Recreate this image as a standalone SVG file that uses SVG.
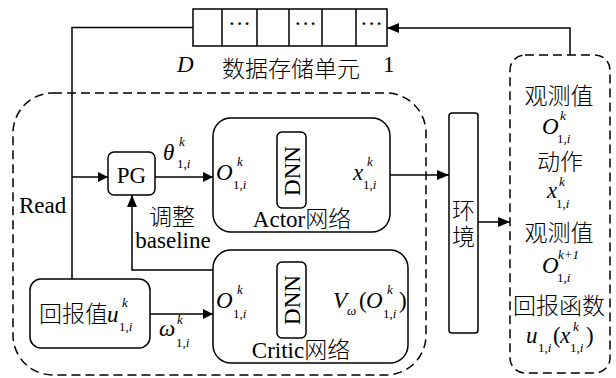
<svg xmlns="http://www.w3.org/2000/svg" width="616" height="378" viewBox="0 0 616 378">
<defs>
<marker id="arr" viewBox="0 0 10 10" refX="10" refY="5" markerWidth="10" markerHeight="10" markerUnits="userSpaceOnUse" orient="auto">
<path d="M0,0 L10,5 L0,10 z" fill="#000"/>
</marker>
<marker id="arrL" viewBox="0 0 12 10" refX="12" refY="5" markerWidth="12" markerHeight="10" markerUnits="userSpaceOnUse" orient="auto">
<path d="M0,0 L12,5 L0,10 z" fill="#000"/>
</marker>
</defs>
<style>
text{font-family:"Liberation Serif","Noto Sans CJK SC",serif;fill:#000;font-size:23px}
.cn{font-family:"Noto Sans CJK SC","Liberation Serif",sans-serif;font-weight:300}
.it{font-style:italic}
.s{font-size:13px}
.box{fill:#fff;stroke:#000;stroke-width:1.5}
.dash{fill:none;stroke:#000;stroke-width:1.5;stroke-dasharray:9,5}
.ln{fill:none;stroke:#000;stroke-width:1.5}
</style>
<rect width="616" height="378" fill="#fff"/>

<g id="outer">
<rect class="dash" x="13" y="93" width="413" height="282" rx="40" ry="40"/>
</g>
<g id="panel">
<rect class="dash" x="510" y="55" width="100" height="318" rx="15" ry="15"/>
</g>

<g id="connectors">
<path class="ln" d="M72,280 V27.5 H193"/>
<path class="ln" d="M72,177 H108" marker-end="url(#arr)"/>
<path class="ln" d="M570,55 V28 H387" marker-end="url(#arrL)"/>
<path class="ln" d="M155,177 H213" marker-end="url(#arr)"/>
<path class="ln" d="M244,170 H277" marker-end="url(#arr)"/>
<path class="ln" d="M306,170 H338" marker-end="url(#arr)"/>
<path class="ln" d="M390,175 H449" marker-end="url(#arrL)"/>
<path class="ln" d="M478,222 H510" marker-end="url(#arrL)"/>
<path class="ln" d="M213,270 H132 V195" marker-end="url(#arrL)"/>
<path class="ln" d="M150,314 H213" marker-end="url(#arr)"/>
<path class="ln" d="M244,300 H277" marker-end="url(#arr)"/>
<path class="ln" d="M306,300 H333" marker-end="url(#arr)"/>
</g>

<g id="storage">
<rect class="box" x="193" y="9" width="194" height="37"/>
<path class="ln" d="M222,9 V46 M257,9 V46 M289,9 V46 M322,9 V46 M356,9 V46"/>
<text x="239.5" y="31" text-anchor="middle" font-size="16">···</text>
<text x="305.5" y="31" text-anchor="middle" font-size="16">···</text>
<text x="371.5" y="31" text-anchor="middle" font-size="16">···</text>
<text class="it" x="177" y="72">D</text>
<text class="cn" x="222" y="77" font-size="23.5">数据存储单元</text>
<text x="383" y="72">1</text>
</g>

<g id="read">
<text x="19" y="213">Read</text>
</g>

<g id="pg">
<rect class="box" x="108" y="152" width="47" height="43" rx="6" ry="6"/>
<text x="131.5" y="183" text-anchor="middle">PG</text>
<text class="it" x="163" y="160">θ</text>
<text class="it s" x="179" y="146">k</text>
<text class="s" x="177" y="168">1,<tspan class="it">i</tspan></text>
</g>

<g id="adjust">
<text class="cn" x="172" y="225" text-anchor="middle">调整</text>
<text x="173" y="248" text-anchor="middle">baseline</text>
</g>

<g id="actor">
<rect class="box" x="213" y="118" width="177" height="114" rx="18" ry="18"/>
<rect class="box" x="277" y="132" width="29" height="76" rx="5" ry="5"/>
<text transform="translate(299.5,171) rotate(-90)" text-anchor="middle">DNN</text>
<text class="it" x="216" y="180">O</text>
<text class="it s" x="237" y="166">k</text>
<text class="s" x="233" y="189">1,<tspan class="it">i</tspan></text>
<text class="it" x="353" y="180">x</text>
<text class="it s" x="367" y="166">k</text>
<text class="s" x="363" y="189">1,<tspan class="it">i</tspan></text>
<text x="302" y="227" text-anchor="middle">Actor<tspan class="cn">网络</tspan></text>
</g>

<g id="critic">
<rect class="box" x="213" y="250" width="195" height="113" rx="18" ry="18"/>
<rect class="box" x="277" y="262" width="29" height="76" rx="5" ry="5"/>
<text transform="translate(299.5,300) rotate(-90)" text-anchor="middle">DNN</text>
<text class="it" x="216" y="308">O</text>
<text class="it s" x="237" y="294">k</text>
<text class="s" x="233" y="318">1,<tspan class="it">i</tspan></text>
<text class="it" x="333" y="308">V</text>
<text class="it s" x="347" y="315">ω</text>
<text x="359" y="308">(</text>
<text class="it" x="366" y="308">O</text>
<text class="it s" x="387" y="294">k</text>
<text class="s" x="383" y="318">1,<tspan class="it">i</tspan></text>
<text x="399" y="308">)</text>
<text x="301" y="358" text-anchor="middle">Critic<tspan class="cn">网络</tspan></text>
</g>

<g id="env">
<rect class="box" x="449" y="113" width="29" height="220" rx="3" ry="3"/>
<text class="cn" x="463.5" y="219" text-anchor="middle" font-size="22">环</text>
<text class="cn" x="463.5" y="245" text-anchor="middle" font-size="22">境</text>
</g>

<g id="reward">
<rect class="box" x="30" y="279" width="120" height="69" rx="11" ry="11"/>
<text class="cn" x="39" y="322">回报值</text>
<text class="it" x="107" y="322">u</text>
<text class="it s" x="122" y="307">k</text>
<text class="s" x="119" y="331">1,<tspan class="it">i</tspan></text>
<text class="it" x="159" y="336">ω</text>
<text class="it s" x="177" y="324">k</text>
<text class="s" x="176" y="347">1,<tspan class="it">i</tspan></text>
</g>

<g id="panel-text">
<text class="cn" x="559" y="104" text-anchor="middle">观测值</text>
<text class="it" x="542" y="134">O</text>
<text class="it s" x="560" y="120">k</text>
<text class="s" x="557" y="143">1,<tspan class="it">i</tspan></text>
<text class="cn" x="560" y="170" text-anchor="middle">动作</text>
<text class="it" x="547" y="198">x</text>
<text class="it s" x="559" y="186">k</text>
<text class="s" x="556" y="208">1,<tspan class="it">i</tspan></text>
<text class="cn" x="559" y="241" text-anchor="middle">观测值</text>
<text class="it" x="542" y="273">O</text>
<text class="it s" x="558" y="259">k+1</text>
<text class="s" x="557" y="282">1,<tspan class="it">i</tspan></text>
<text class="cn" x="559" y="314" text-anchor="middle">回报函数</text>
<text class="it" x="526" y="343">u</text>
<text class="s" x="538" y="352">1,<tspan class="it">i</tspan></text>
<text x="553" y="343">(</text>
<text class="it" x="560" y="343">x</text>
<text class="it s" x="573" y="331">k</text>
<text class="s" x="570" y="352">1,<tspan class="it">i</tspan></text>
<text x="586" y="343">)</text>
</g>
</svg>
